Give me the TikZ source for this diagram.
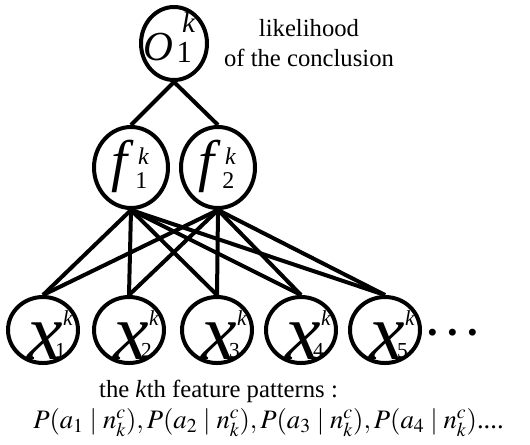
\documentclass[tikz,border=0pt]{standalone}
\usepackage{mathptmx}
\usepackage{fontspec}
\setmainfont{Liberation Serif}
\usetikzlibrary{shapes.geometric}

% unit symbols: big letter, superscript k and index, each set from the node centre
\newcommand\osym[1]{\smash{%
  \rlap{\kern-23.25pt\raisebox{-12.4pt}{\fontsize{31}{31}\selectfont\textit{O}}}%
  \rlap{\kern6pt\raisebox{8.6pt}{\fontsize{22}{22}\selectfont\textit{k}}}%
  \rlap{\kern1.9pt\raisebox{-13.9pt}{\fontsize{23}{23}\selectfont#1}}}}
\newcommand\fsym[1]{\smash{%
  \rlap{\kern-14.5pt\raisebox{-10.1pt}{\fontsize{43}{43}\selectfont\textit{f}}}%
  \rlap{\kern5.25pt\raisebox{1.9pt}{\fontsize{18}{18}\selectfont\textit{k}}}%
  \rlap{\kern3.2pt\raisebox{-15.4pt}{\fontsize{18}{18}\selectfont#1}}}}
\newcommand\xsym[1]{\smash{%
  \rlap{\kern-12pt\raisebox{-21.75pt}{\fontsize{60}{60}\selectfont\textit{x}}}%
  \rlap{\kern15pt\raisebox{3.75pt}{\fontsize{16}{16}\selectfont\textit{k}}}%
  \rlap{\kern9pt\raisebox{-20.25pt}{\fontsize{16}{16}\selectfont#1}}}}

\tikzset{
  unit/.style={ellipse, draw, line width=3pt, inner sep=0pt},
  link/.style={line width=3pt},
  caption/.style={font=\fontsize{18.5}{22.5}\selectfont, align=center, inner sep=0pt}
}

\begin{document}
\begin{tikzpicture}[x=0.75pt, y=-0.75pt]
  \useasboundingbox (0,0) rectangle (530,444);
  % conclusion
  \node[unit, minimum width=49.5pt, minimum height=54.75pt] (o1) at (174,43.5) {\osym{1}};
  \node[caption] (concl) at (309,43) {likelihood\\of the conclusion};
  % hidden layer
  \node[unit, minimum width=55.5pt, minimum height=60.75pt] (f1) at (131,167.5) {\fsym{1}};
  \node[unit, minimum width=55.5pt, minimum height=60.75pt] (f2) at (218,167.5) {\fsym{2}};
  % feature patterns
  \foreach \px/\i in {43/1, 129/2, 217/3, 301/4, 385/5}
    \node[unit, minimum width=52.5pt, minimum height=49.5pt] (x\i) at (\px,330) {\xsym{\i}};
  \node[font=\fontsize{32}{32}\selectfont\bfseries, inner sep=0pt] (more) at (453,333) {.\kern7pt.\kern7pt.};

  \draw[link] (o1.south) -- (f1.north);
  \draw[link] (o1.south) -- (f2.north);
  \foreach \j in {1,2}
    \foreach \i in {1,...,5}
      \draw[link] (f\j.south) -- (x\i.north);

  \node[caption, anchor=base] (patt) at (218.5,397) {the \textit{k}th feature patterns :};
  \node[caption, anchor=base, font=\fontsize{20}{22.5}\selectfont] (probs) at (268.5,428)
    {$P(a_1\mid n_k^c),P(a_2\mid n_k^c),P(a_3\mid n_k^c),P(a_4\mid n_k^c)$....};
\end{tikzpicture}
\end{document}
